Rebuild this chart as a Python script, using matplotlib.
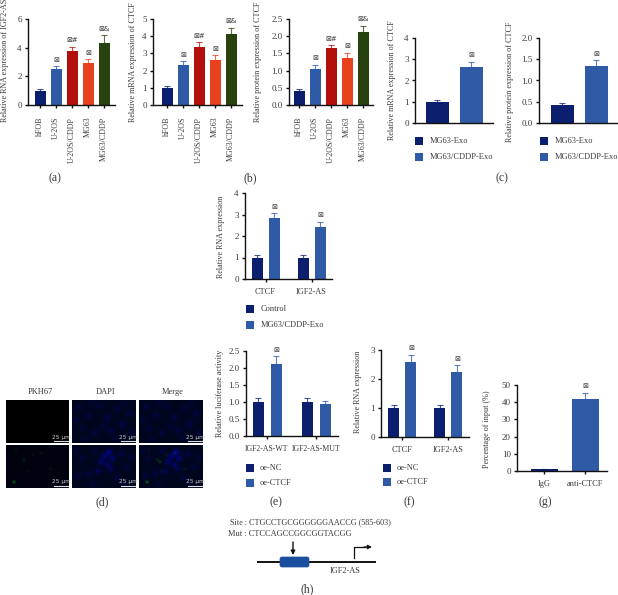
import numpy as np
import matplotlib
matplotlib.use('Agg')
import matplotlib.pyplot as plt
from matplotlib.patches import FancyBboxPatch, Rectangle

plt.rcParams['font.family'] = ['Liberation Serif', 'DejaVu Sans']
W, H = 618, 595
TXT = '#3a3a3a'
NAVY, BLUE, RED, ORANGE, GREEN = '#0c1f6e', '#2f5aa6', '#b3100d', '#e8411d', '#27410f'

cells = ['hFOB', 'U-2OS', 'U-2OS/CDDP', 'MG63', 'MG63/CDDP']
marks_5 = ['', '⊠', '⊠#', '⊠', '⊠&']
a_vals = [1.0, 2.5, 3.75, 2.95, 4.35]
a_errs = [0.12, 0.2, 0.3, 0.25, 0.5]
b_vals = [1.0, 2.3, 3.4, 2.6, 4.1]
b_errs = [0.1, 0.25, 0.25, 0.3, 0.4]
c_vals = [0.42, 1.05, 1.65, 1.37, 2.13]
c_errs = [0.05, 0.12, 0.08, 0.15, 0.18]
exo_labels = ['MG63-Exo', 'MG63/CDDP-Exo']
c2_vals = [1.0, 2.62]
c2_errs = [0.08, 0.27]
c3_vals = [0.42, 1.35]
c3_errs = [0.05, 0.13]
groups = ['CTCF', 'IGF2-AS']
mid_vals = [[1.0, 1.0], [2.82, 2.42]]
mid_errs = [[0.12, 0.12], [0.25, 0.25]]
e_groups = ['IGF2-AS-WT', 'IGF2-AS-MUT']
e_vals = [[1.0, 1.0], [2.12, 0.93]]
e_errs = [[0.12, 0.12], [0.22, 0.1]]
f_vals = [[1.0, 1.0], [2.6, 2.25]]
f_errs = [[0.1, 0.1], [0.23, 0.22]]
g_labels = ['IgG', 'anti-CTCF']
g_vals = [1.0, 42.0]
g_errs = [0.3, 3.5]

fig = plt.figure(figsize=(W / 100, H / 100), dpi=100, facecolor='white')
ov = fig.add_axes([0, 0, 1, 1], zorder=5)
ov.set_xlim(0, W); ov.set_ylim(H, 0); ov.axis('off'); ov.patch.set_alpha(0)


def panel(x0, x1, y0, ytop, ymax, ticks, fmt, pos, width):
    ax = fig.add_axes([x0 / W, 1 - y0 / H, (x1 - x0) / W, (y0 - ytop) / H])
    ax.set_ylim(0, ymax)
    ax.set_yticks(ticks)
    ax.set_yticklabels([fmt % t for t in ticks], fontsize=6.5, color=TXT)
    s = pos[1] - pos[0]
    ax.set_xlim((x0 - pos[0]) / s, (x1 - pos[0]) / s)
    for k in ('top', 'right'):
        ax.spines[k].set_visible(False)
    for k in ('left', 'bottom'):
        ax.spines[k].set_linewidth(1.0)
        ax.spines[k].set_color('#111111')
    ax.tick_params(length=2.5, width=1.0, pad=2, color='#111111')
    ax.patch.set_alpha(0)
    ax._w = width / s
    return ax


def bars(ax, xs, vals, errs, cols, marks, ymax, msize=5):
    w = ax._w
    ax.bar(xs, vals, width=w, color=cols, edgecolor='none', zorder=2)
    for x, v, e, c, m in zip(xs, vals, errs, cols, marks):
        ax.errorbar([x], [v], yerr=[[0], [e]], ecolor=c, elinewidth=0.8, capsize=2.2, capthick=0.8,
                    fmt='none', zorder=1, alpha=0.75)
        if m:
            ax.annotate(m, (x, v + e), xytext=(0, 2.5), textcoords='offset points', ha='center', va='bottom',
                        fontsize=msize, color=TXT, family=['DejaVu Sans'], annotation_clip=False)


def ylab(x, ybot, s, size=5.9):
    ov.text(x, ybot, s, rotation=90, ha='center', va='bottom', fontsize=size, color=TXT)


def legend(x, ys, tx, labels, cols):
    for y, l, c in zip(ys, labels, cols):
        ov.add_patch(Rectangle((x, y - 4), 8, 8, facecolor=c, edgecolor='none'))
        ov.text(tx, y, l, va='center', ha='left', fontsize=6.0, color=TXT)


def five(x0, x1, pos, y0, ymax, ticks, fmt, vals, errs):
    ax = panel(x0, x1, y0, 19, ymax, ticks, fmt, pos, 11)
    xs = np.arange(len(cells))
    bars(ax, xs, vals, errs, [NAVY, BLUE, RED, ORANGE, GREEN], marks_5, ymax)
    ax.set_xticks(xs)
    ax.set_xticklabels(cells, rotation=90, fontsize=5.7, color=TXT)
    ax.tick_params(axis='x', pad=6)
    return ax


five(28, 115, [40, 56], 105, 6, [0, 2, 4, 6], '%d', a_vals, a_errs)
five(153, 242, [167, 183], 105, 5, [0, 1, 2, 3, 4, 5], '%d', b_vals, b_errs)
five(289, 373, [299, 315], 105, 2.5, [0, 0.5, 1, 1.5, 2, 2.5], '%.1f', c_vals, c_errs)
ylab(5, 122, 'Relative RNA expression of IGF2-AS')
ylab(133, 122, 'Relative mRNA expression of CTCF')
ylab(258, 122, 'Relative protein expression of CTCF')

ax = panel(415, 493, 123, 38, 4, [0, 1, 2, 3, 4], '%d', [437, 471], 23)
bars(ax, [0, 1], c2_vals, c2_errs, [NAVY, BLUE], ['', '⊠'], 4)
ax.set_xticks([])
ax = panel(539, 618, 123, 38, 2.0, [0, 0.5, 1, 1.5, 2], '%.1f', [562, 596], 23)
bars(ax, [0, 1], c3_vals, c3_errs, [NAVY, BLUE], ['', '⊠'], 2.0)
ax.set_xticks([])
ylab(392, 140, 'Relative mRNA expression of CTCF')
ylab(510, 142, 'Relative protein expression of CTCF')
legend(415, [141, 157], 430, exo_labels, [NAVY, BLUE])
legend(540, [141, 157], 555, exo_labels, [NAVY, BLUE])


def grouped(x0, x1, y0, ytop, ymax, ticks, fmt, pos, vals, errs, labels):
    s = pos[2] - pos[0]
    ax = panel(x0, x1, y0, ytop, ymax, ticks, fmt, [(pos[0] + pos[1]) / 2, (pos[2] + pos[3]) / 2], 11)
    d = (pos[1] - pos[0]) / 2 / s
    xs = np.arange(2)
    bars(ax, xs - d, vals[0], errs[0], [NAVY, NAVY], ['', ''], ymax)
    bars(ax, xs + d, vals[1], errs[1], [BLUE, BLUE], ['⊠', '⊠'], ymax)
    ax.set_xticks(xs)
    ax.set_xticklabels(labels, fontsize=6.0, color=TXT)
    ax.tick_params(axis='x', pad=4)
    return ax


grouped(245, 332, 279, 193, 4, [0, 1, 2, 3, 4], '%d', [257, 274, 303, 320], mid_vals, mid_errs, groups)
ylab(221, 278, 'Relative RNA expression')
legend(246, [309, 325], 261, ['Control', 'MG63/CDDP-Exo'], [NAVY, BLUE])

ax = grouped(246, 338, 436, 351, 2.5, [0, 0.5, 1, 1.5, 2, 2.5], '%.1f', [258, 276, 307, 325], e_vals, e_errs, e_groups)
for lab in ax.get_xticklabels():
    lab.set_fontsize(5.6)
ax.texts[-1].set_visible(False)  # the reference flags no difference on the mutant reporter
ylab(220, 437, 'Relative luciferase activity')
legend(246, [468, 483], 260, ['oe-NC', 'oe-CTCF'], [NAVY, BLUE])

grouped(381, 469, 437, 350, 3, [0, 1, 2, 3], '%d', [394, 411, 440, 457], f_vals, f_errs, groups)
ylab(358, 433, 'Relative RNA expression')
legend(383, [468, 482], 397, ['oe-NC', 'oe-CTCF'], [NAVY, BLUE])

ax = panel(517, 607, 471, 385, 50, [0, 10, 20, 30, 40, 50], '%d', [544, 585], 27)
bars(ax, [0, 1], g_vals, g_errs, [NAVY, BLUE], ['', '⊠'], 50)
ax.set_xticks([0, 1])
ax.set_xticklabels(g_labels, fontsize=6.0, color=TXT)
ax.tick_params(axis='x', pad=4)
ylab(487, 468, 'Percentage of input (%)')

# (d) fluorescence micrographs: hand-placed nuclei (x, y, brightness) in panel fractions
nuclei_top = [(.10, .15, .12), (.25, .35, .14), (.42, .12, .1), (.55, .40, .16), (.70, .18, .12), (.88, .30, .14),
              (.15, .65, .1), (.35, .75, .12), (.60, .70, .14), (.78, .55, .16), (.93, .75, .1), (.48, .60, .1),
              (.05, .45, .1), (.30, .05, .08), (.82, .08, .1), (.66, .88, .08), (.20, .90, .08)]
nuclei_low = [(.50, .25, .3), (.57, .15, .38), (.62, .30, .32), (.45, .38, .28), (.55, .45, .25), (.40, .60, .2),
              (.60, .55, .18), (.15, .30, .12), (.25, .65, .14), (.10, .70, .1), (.75, .20, .14), (.85, .50, .12),
              (.70, .75, .12), (.92, .28, .1), (.35, .12, .1), (.30, .88, .09), (.80, .88, .09), (.05, .12, .09)]
green_low = [(.28, .33, .14), (.12, .85, .4), (.55, .18, .08), (.42, .22, .08), (.70, .55, .08), (.35, .60, .06),
             (.15, .10, .05)]
green_merge = green_low + [(.32, .38, .2)]


def blobs(items, sigma, nx=64, ny=43):
    yy, xx = np.mgrid[0:ny, 0:nx]
    img = np.zeros((ny, nx))
    for fx, fy, a in items:
        img += a * np.exp(-(((xx - fx * nx) ** 2 + (yy - fy * ny) ** 2)) / (2 * sigma ** 2))
    return img


def micro(x0, x1, y0, y1, blue, green, base):
    a = fig.add_axes([x0 / W, 1 - y1 / H, (x1 - x0) / W, (y1 - y0) / H])
    b = blobs(blue, 2.2) if blue else np.zeros((43, 64))
    g = blobs(green, 1.0) if green else np.zeros((43, 64))
    rgb = np.dstack([np.zeros_like(b), np.clip(g + 0.02 * base, 0, 1), np.clip(b + 0.12 * base, 0, 1)])
    a.imshow(rgb, aspect='auto', interpolation='bilinear')
    a.axis('off')
    ov.plot([x1 - 15, x1 - 1], [y1 - 2, y1 - 2], color='#dddddd', lw=0.8)
    ov.text(x1 - 8, y1 - 6, '25 μm', ha='center', va='center', fontsize=4.2, color='#cccccc', family=['DejaVu Sans'])


micro(6, 69, 400, 443, [], [], 0)
micro(72, 136, 400, 443, nuclei_top, [], 1)
micro(139, 203, 400, 443, nuclei_top, [], 1)
micro(6, 69, 445, 488, [], green_low, 0.5)
micro(72, 136, 445, 488, nuclei_low, [], 1)
micro(139, 203, 445, 488, nuclei_low, green_merge, 1)
for x, s in zip([40, 106, 173], ['PKH67', 'DAPI', 'Merge']):
    ov.text(x, 392, s, ha='center', va='center', fontsize=6.0, color=TXT)

# (h) promoter schematic
ov.text(230, 522, 'Site : CTGCCTGCGGGGGGAACCG (585-603)', fontsize=5.9, color=TXT, va='center', ha='left')
ov.text(228, 534, 'Mut : CTCCAGCCGGCGGTACGG', fontsize=6.0, color=TXT, va='center', ha='left')
ov.plot([257, 376], [562, 562], color='#111111', lw=1.4, solid_capstyle='butt')
ov.add_patch(FancyBboxPatch((281, 558), 27, 8, boxstyle='round,pad=1,rounding_size=2', facecolor='#1a4fa0',
                            edgecolor='#1a4fa0', lw=0.5, zorder=3))
ov.annotate('', xy=(293, 555), xytext=(293, 542),
            arrowprops=dict(arrowstyle='-|>', color='#111111', lw=1.0, mutation_scale=6, shrinkA=0, shrinkB=0))
ov.plot([354, 354, 365], [558, 547, 547], color='#111111', lw=0.9)
ov.annotate('', xy=(372, 547), xytext=(364, 547),
            arrowprops=dict(arrowstyle='-|>', color='#111111', lw=0.9, mutation_scale=6, shrinkA=0, shrinkB=0))
ov.text(345, 571, 'IGF2-AS', fontsize=6.0, color=TXT, ha='center', va='center')

for x, y, s in [(55, 178, '(a)'), (250, 178, '(b)'), (502, 178, '(c)'), (102, 502, '(d)'), (276, 502, '(e)'),
                (409, 502, '(f)'), (545, 502, '(g)'), (307, 589, '(h)')]:
    ov.text(x, y, s, ha='center', va='center', fontsize=8.5, color=TXT)

fig.savefig('out.png', dpi=100)
